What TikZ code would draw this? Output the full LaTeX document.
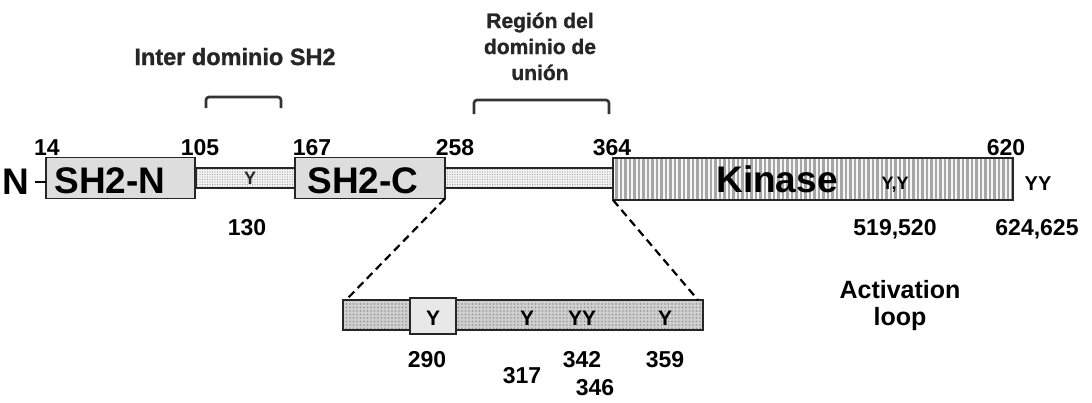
\documentclass[tikz,border=0pt]{standalone}
\usepackage{fontspec}
\setmainfont{Liberation Sans}
\newfontfamily\heavyfont[FakeBold=1.2]{Liberation Sans}
\usetikzlibrary{patterns.meta}
\begin{document}
\begin{tikzpicture}[x=1pt,y=-1pt,
  every node/.style={inner sep=0pt, outer sep=0pt},
  num/.style={anchor=base, font=\fontsize{23}{26}\selectfont\bfseries},
  big/.style={anchor=base, font=\fontsize{37}{40}\selectfont\bfseries},
  titletext/.style={font=\fontsize{#1}{26}\heavyfont\bfseries, align=center, text=black!85},
  tyr/.style={anchor=base, font=\fontsize{#1}{#1}\selectfont\bfseries},
  outline/.style={draw=gray!30!black, line width=1.2pt},
  dombox/.style={outline, fill=gray!27},
  linker/.style={outline, preaction={fill=gray!10},
    pattern={Dots[distance=2.5pt, radius=0.55pt]}, pattern color=gray!70},
  kinasebox/.style={outline, preaction={fill=gray!6},
    pattern={Lines[angle=90, distance=4.5pt, line width=2.3pt]}, pattern color=gray!70},
  zoombox/.style={outline, preaction={fill=gray!38},
    pattern={Dots[distance=3.5pt, radius=0.9pt]}, pattern color=gray!85},
  brace/.style={draw=black!80, line width=2.6pt, rounded corners=3pt},
  zoomline/.style={draw=black, line width=2.2pt, dash pattern=on 8pt off 5pt}
]
\useasboundingbox (0,0) rectangle (1092,402);

% linkers behind the domains
\node[linker, minimum width=100pt, minimum height=20pt] (l1) at (246,178) {};
\node[linker, minimum width=168pt, minimum height=20pt] (l2) at (529,178) {};

% domains
\node[dombox, minimum width=149pt, minimum height=41pt] (sh2n) at (120.5,178) {};
\node[dombox, minimum width=150pt, minimum height=41pt] (sh2c) at (370,178) {};
\node[kinasebox, minimum width=400pt, minimum height=42pt] (kin) at (813,179) {};

\node[big] (sh2nt) at (110,193) {SH2-N};
\node[big] (sh2ct) at (363,193) {SH2-C};
\node[big] (kint) at (777,192) {Kinase};

% N terminus
\node[big, anchor=center] (nterm) at (16,182) {N};
\coordinate (nstub) at ([xshift=6pt]nterm.east);
\draw[line width=2.2pt] (nstub) -- (nstub -| sh2n.west);

% tyrosines on the full chain
\node[tyr=18, text=black!85] (y130) at (250,184) {Y};
\node[tyr=18] (y519) at (895,189) {Y,Y};
\node[tyr=20] (y624) at (1038,190) {YY};

% residue numbers
\node[num] (n14) at (47,155) {14};
\node[num] (n105) at (200,155) {105};
\node[num] (n167) at (312,155) {167};
\node[num] (n258) at (455,155) {258};
\node[num] (n364) at (612,155) {364};
\node[num] (n620) at (1006,155) {620};
\node[num] (n130) at (247,235) {130};
\node[num] (n519) at (895,235) {519,520};
\node[num] (n624) at (1037,235) {624,625};

% brackets and their titles
\coordinate (b1a) at (206,108);
\coordinate (b1b) at (281,108);
\draw[brace] (b1a) -- (206,97) -- (281,97) -- (b1b);
\node[titletext=23.5, anchor=base] (t1) at (235,65) {Inter dominio SH2};
\coordinate (b2a) at (474,114);
\coordinate (b2b) at (609,114);
\draw[brace] (b2a) -- (474,100) -- (609,100) -- (b2b);
\node[titletext=21, anchor=base] (t2) at (540,80) {Región del\\dominio de\\unión};

% expanded binding region
\node[zoombox, minimum width=360pt, minimum height=30pt] (zoom) at (523,315) {};
\node[dombox, fill=gray!18, minimum width=46pt, minimum height=36pt] (y290box) at (433,316) {};
\node[tyr=21] (y290) at (433,325) {Y};
\node[tyr=21] (y317) at (527,325) {Y};
\node[tyr=21] (y342) at (582,325) {YY};
\node[tyr=21] (y359) at (665,325) {Y};

\node[num] (n290) at (427,367) {290};
\node[num] (n317) at (522,383) {317};
\node[num] (n342) at (582,367) {342};
\node[num] (n346) at (595,395) {346};
\node[num] (n359) at (665,367) {359};

\draw[zoomline] (sh2c.south east) -- ([xshift=3pt]zoom.north west);
\draw[zoomline] (kin.south west) -- ([xshift=-5pt]zoom.north east);

% activation loop note
\node[font=\fontsize{25}{27}\selectfont\bfseries, align=center, anchor=base] (act) at (900,325) {Activation\\loop};
\end{tikzpicture}
\end{document}
